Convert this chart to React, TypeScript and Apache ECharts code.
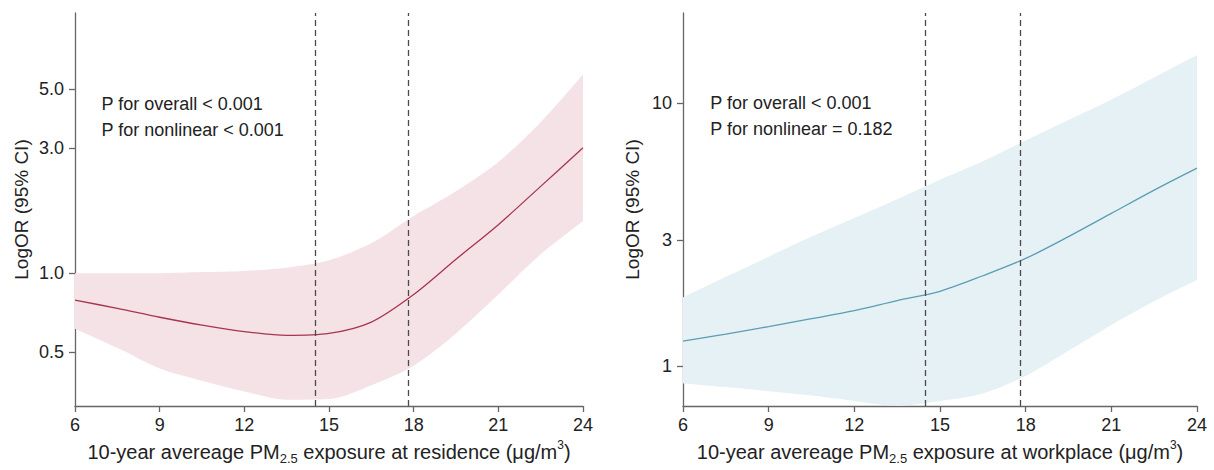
import React, { useEffect, useRef } from "react";
import * as echarts from "echarts";

// PM2.5 exposure (µg/m³)
const exposure = [6, 7.5, 9, 10.5, 12, 13.5, 15, 16.5, 18, 19.5, 21, 22.5, 24];

// Residence panel (odds ratios, log scale)
const resOR = [0.79, 0.735, 0.68, 0.635, 0.6, 0.58, 0.59, 0.652, 0.83, 1.13, 1.53, 2.14, 3.0];
const resUpper = [1.0, 1.0, 1.0, 1.01, 1.02, 1.05, 1.12, 1.3, 1.65, 2.05, 2.65, 3.75, 5.7];
const resLower = [0.615, 0.52, 0.434, 0.39, 0.355, 0.33, 0.332, 0.375, 0.445, 0.59, 0.83, 1.18, 1.58];

// Workplace panel
const workOR = [1.24, 1.32, 1.41, 1.51, 1.62, 1.77, 1.92, 2.2, 2.56, 3.1, 3.8, 4.66, 5.65];
const workUpper = [1.82, 2.18, 2.6, 3.1, 3.65, 4.3, 5.1, 6.0, 7.2, 8.6, 10.3, 12.5, 15.2];
const workLower = [0.857, 0.83, 0.8, 0.77, 0.735, 0.705, 0.735, 0.785, 0.915, 1.14, 1.43, 1.76, 2.12];

// Reference (cut-off) lines
const cutoffs = [14.5, 17.8];

// Axis ticks
const xTicks = { min: 6, max: 24, interval: 3 };
const resYTicks = [0.5, 1.0, 3.0, 5.0];
const workYTicks = [1, 3, 10];
const resYRange = [0.3125, 9.77];
const workYRange = [0.703, 21.98];

const FONT = '"Liberation Sans", Arial, Helvetica, sans-serif';
const lg = (v: number) => Math.log10(v);

// Band rows are [logOR, exposure] so that the stacked dimension is the y value.
function band(id: string, lower: number[], upper: number[], axisIdx: number, color: string) {
  const common = {
    type: "line",
    xAxisIndex: axisIdx,
    yAxisIndex: axisIdx,
    stack: id,
    stackStrategy: "all",
    smooth: 0.3,
    symbol: "none",
    silent: true,
    encode: { x: 1, y: 0 },
    lineStyle: { opacity: 0 },
  };
  return [
    { ...common, name: id + "_lo", data: exposure.map((x, i) => [lg(lower[i]), x]) },
    {
      ...common,
      name: id + "_band",
      areaStyle: { color, opacity: 1 },
      data: exposure.map((x, i) => [lg(upper[i]) - lg(lower[i]), x]),
    },
  ];
}

function mainLine(values: number[], axisIdx: number, color: string) {
  return {
    type: "line",
    xAxisIndex: axisIdx,
    yAxisIndex: axisIdx,
    smooth: 0.3,
    symbol: "none",
    lineStyle: { color, width: 1.3 },
    data: exposure.map((x, i) => [x, lg(values[i])]),
    markLine: {
      silent: true,
      symbol: "none",
      label: { show: false },
      lineStyle: { color: "#4a4a4a", type: [6, 4], width: 1.3 },
      data: cutoffs.map((c) => ({ xAxis: c })),
    },
  };
}

const xName = (place: string) =>
  "10-year avereage PM{sub|2.5} exposure at " + place + " (μg/m{sup|3})";

function xAxis(gridIndex: number, place: string) {
  return {
    type: "value",
    gridIndex,
    min: xTicks.min,
    max: xTicks.max,
    interval: xTicks.interval,
    splitLine: { show: false },
    axisLine: { show: true, onZero: false, lineStyle: { color: "#666", width: 1.3 } },
    axisTick: { show: true, length: 6, lineStyle: { color: "#666", width: 1.3 } },
    axisLabel: { color: "#222", fontSize: 18, fontFamily: FONT, margin: 10 },
    name: xName(place),
    nameLocation: "middle",
    nameGap: 33,
    nameTextStyle: {
      color: "#222",
      fontSize: 20,
      fontFamily: FONT,
      lineHeight: 26,
      rich: {
        sub: { fontSize: 13, fontFamily: FONT, color: "#222", verticalAlign: "bottom", lineHeight: 13 },
        sup: { fontSize: 12, fontFamily: FONT, color: "#222", verticalAlign: "top", lineHeight: 14 },
      },
    },
  };
}

function yAxis(gridIndex: number, range: number[], ticks: number[], digits: number, gap: number) {
  const tv = ticks.map(lg);
  return {
    type: "value",
    gridIndex,
    min: lg(range[0]),
    max: lg(range[1]),
    splitLine: { show: false },
    axisLine: { show: true, onZero: false, lineStyle: { color: "#666", width: 1.3 } },
    axisTick: { show: true, length: 6, customValues: tv, lineStyle: { color: "#666", width: 1.3 } },
    axisLabel: {
      color: "#222",
      fontSize: 18,
      fontFamily: FONT,
      margin: 11,
      customValues: tv,
      formatter: (v: number) => Math.pow(10, v).toFixed(digits),
    },
    name: "LogOR (95% CI)",
    nameLocation: "middle",
    nameGap: gap,
    nameTextStyle: { color: "#222", fontSize: 19, fontFamily: FONT },
  };
}

function textAt(x: number, y: number, text: string) {
  return {
    type: "text",
    x,
    y,
    z: 100,
    silent: true,
    style: { text, fill: "#222", font: "18px " + FONT, verticalAlign: "middle", align: "left" },
  };
}

export default function App() {
  const ref = useRef<HTMLDivElement>(null);
  useEffect(() => {
    document.body.style.margin = "0";
    if (!ref.current) return;
    const chart = echarts.init(ref.current, null, { renderer: "svg" });
    chart.setOption({
      animation: false,
      backgroundColor: "#ffffff",
      grid: [
        { left: 75, top: 13, width: 508, height: 394.7 },
        { left: 683, top: 13, width: 514, height: 394.7 },
      ],
      xAxis: [xAxis(0, "residence"), xAxis(1, "workplace")],
      yAxis: [
        yAxis(0, resYRange, resYTicks, 1, 44),
        yAxis(1, workYRange, workYTicks, 0, 41),
      ],
      series: [
        ...band("res", resLower, resUpper, 0, "#f4e2e7"),
        mainLine(resOR, 0, "#a8354f"),
        ...band("work", workLower, workUpper, 1, "#e6f1f5"),
        mainLine(workOR, 1, "#5b9db3"),
      ],
      graphic: [
        textAt(101.5, 104, "P for overall < 0.001"),
        textAt(101.5, 130, "P for nonlinear < 0.001"),
        textAt(710.3, 102.5, "P for overall < 0.001"),
        textAt(710.3, 129, "P for nonlinear = 0.182"),
      ],
    });
    return () => chart.dispose();
  }, []);
  return (
    <div
      ref={ref}
      style={{ position: "fixed", left: 0, top: 0, width: 1214, height: 470, background: "#fff" }}
    />
  );
}
